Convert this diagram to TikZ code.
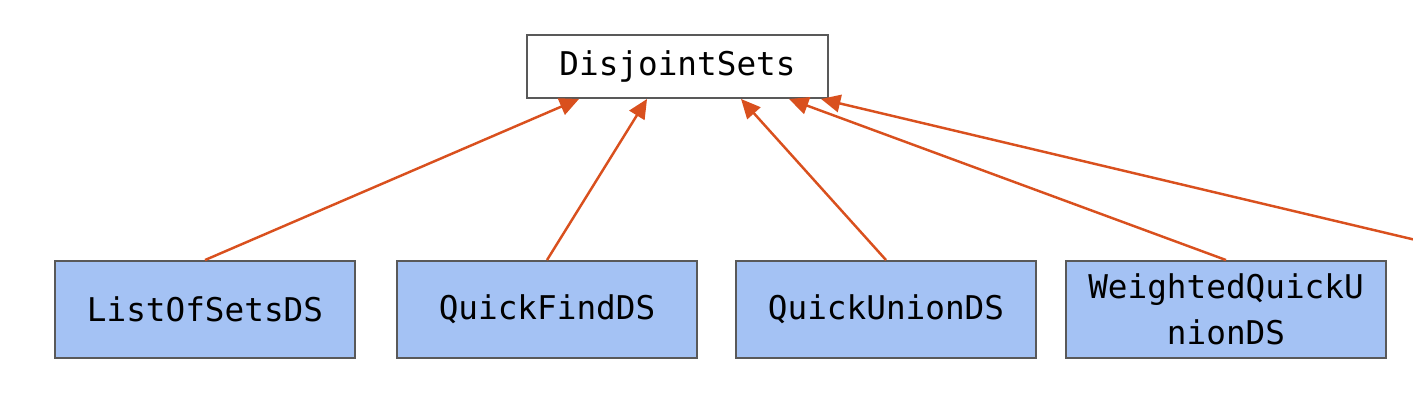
\documentclass[tikz,border=0pt]{standalone}
\usepackage{fontspec}
\setmonofont{DejaVu Sans Mono}
\usetikzlibrary{arrows.meta}
\definecolor{boxblue}{HTML}{A4C2F4}
\definecolor{arrowred}{HTML}{D9501E}
\definecolor{edgegray}{HTML}{595959}
\begin{document}
\begin{tikzpicture}[
    parentbox/.style={draw=edgegray, line width=1.1pt, fill=white, minimum width=6.02cm, minimum height=1.26cm, font=\ttfamily\fontsize{18.6}{22}\selectfont},
    childbox/.style={draw=edgegray, line width=1.1pt, fill=boxblue, minimum width=6cm, minimum height=1.94cm, align=center, font=\ttfamily\fontsize{18.6}{26}\selectfont},
    inherits/.style={draw=arrowred, line width=1.4pt, -{Triangle[length=11pt,width=10pt]}}
  ]
            \useasboundingbox (0,0) rectangle (28.26,-8.22);
            \node[parentbox] (ds) at (13.55,-1.33) {DisjointSets};
            \node[childbox] (los) at (4.1,-6.19) {ListOfSetsDS};
            \node[childbox] (qf) at (10.94,-6.19) {QuickFindDS};
            \node[childbox] (qu) at (17.72,-6.19) {QuickUnionDS};
            \node[childbox, minimum width=6.4cm] (wqu) at (24.52,-6.19) {WeightedQuickU\\nionDS};
            \coordinate (offpage) at (28.4,-4.82);
            \draw[inherits] (los.north) -- ([xshift=1.06cm]ds.south west);
            \draw[inherits] (qf.north) -- ([xshift=2.42cm]ds.south west);
            \draw[inherits] (qu.north) -- ([xshift=4.3cm]ds.south west);
            \draw[inherits] (wqu.north) -- ([xshift=5.26cm]ds.south west);
            \draw[inherits] (offpage) -- ([xshift=5.9cm]ds.south west);
        \end{tikzpicture}
\end{document}
